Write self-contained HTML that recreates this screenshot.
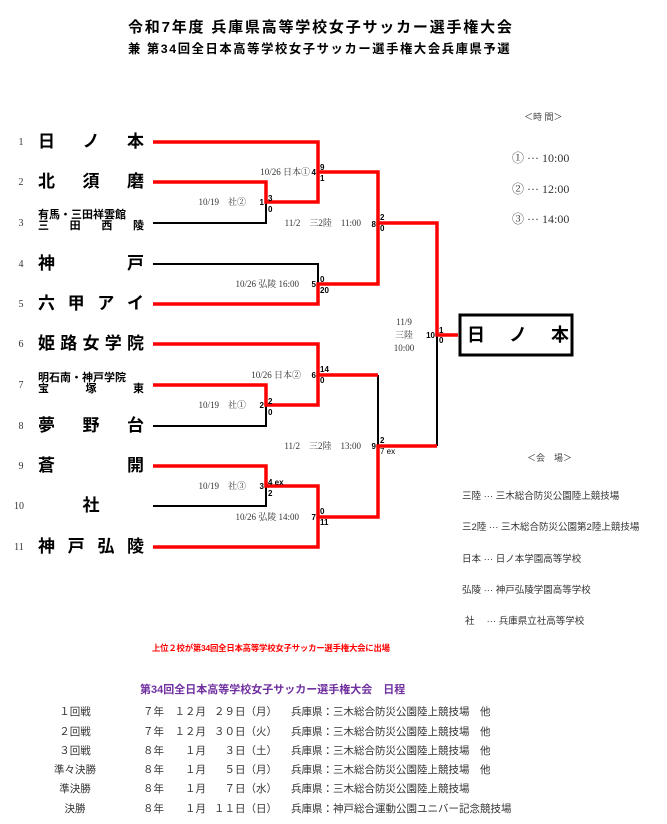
<!DOCTYPE html>
<html><head><meta charset="utf-8"><style>
body{margin:0;background:#fff;width:667px;height:824px;position:relative;overflow:hidden;font-family:"Liberation Sans","Noto Sans CJK JP",sans-serif;color:#000}
.a{position:absolute;white-space:nowrap}
.nm{position:absolute;left:38px;width:106px;display:flex;justify-content:space-between;font-weight:bold;font-size:17px;line-height:18px}
.nm2{position:absolute;left:38px;width:106px;font-weight:bold;font-size:11px;line-height:11px}
.nm2 div{display:flex;justify-content:space-between}
.no{position:absolute;left:14px;width:14px;text-align:center;font-family:"Liberation Serif",serif;font-size:10px;color:#333}
.sr{font-family:"Liberation Serif","Noto Serif CJK SC",serif}
.s{position:absolute;font-size:10.5px;color:#333;white-space:nowrap;line-height:14px}
</style></head><body>
<div class="a" style="left:128px;top:16px;font-size:15px;font-weight:bold;letter-spacing:1.8px">令和7年度 兵庫県高等学校女子サッカー選手権大会</div>
<div class="a" style="left:128px;top:39px;font-size:12.3px;font-weight:bold;letter-spacing:1.6px">兼 第34回全日本高等学校女子サッカー選手権大会兵庫県予選</div>

<div class="no" style="top:137px">1</div><div class="nm" style="top:133px"><span>日</span><span>ノ</span><span>本</span></div>
<div class="no" style="top:177px">2</div><div class="nm" style="top:173px"><span>北</span><span>須</span><span>磨</span></div>
<div class="no" style="top:218px">3</div><div class="nm2" style="top:210px"><div><span>有馬・三田祥雲館</span></div><div><span>三</span><span>田</span><span>西</span><span>陵</span></div></div>
<div class="no" style="top:259px">4</div><div class="nm" style="top:255px"><span>神</span><span>戸</span></div>
<div class="no" style="top:299px">5</div><div class="nm" style="top:295px"><span>六</span><span>甲</span><span>ア</span><span>イ</span></div>
<div class="no" style="top:339px">6</div><div class="nm" style="top:335px"><span>姫</span><span>路</span><span>女</span><span>学</span><span>院</span></div>
<div class="no" style="top:380px">7</div><div class="nm2" style="top:373px"><div><span>明石南・神戸学院</span></div><div><span>宝</span><span>塚</span><span>東</span></div></div>
<div class="no" style="top:421px">8</div><div class="nm" style="top:417px"><span>夢</span><span>野</span><span>台</span></div>
<div class="no" style="top:461px">9</div><div class="nm" style="top:457px"><span>蒼</span><span>開</span></div>
<div class="no" style="top:501px;left:12px">10</div><div class="nm" style="top:497px;justify-content:center"><span>社</span></div>
<div class="no" style="top:542px;left:12px">11</div><div class="nm" style="top:538px"><span>神</span><span>戸</span><span>弘</span><span>陵</span></div>

<svg class="a" style="left:0;top:0" width="667" height="824">
<g fill="none" stroke="#000" stroke-width="2">
<path d="M153 223H266V202"/><path d="M153 264H318V284"/><path d="M318 172V202"/><path d="M378 223V284"/>
<path d="M153 426H266V405"/><path d="M153 506H266V486"/><path d="M318 375V405"/><path d="M378 375V446"/><path d="M437 335V446"/><path d="M318 486V517"/>
</g>
<g fill="none" stroke="#f00" stroke-width="3.5">
<path d="M153 142H318V172H378V223H437V335H458"/>
<path d="M153 182H266V202H318V172"/>
<path d="M153 304H318V284H378V223"/>
<path d="M153 344H318V375H378"/>
<path d="M153 385H266V405H318V375"/>
<path d="M153 466H266V486H318V517H378V446H437"/>
<path d="M153 547H318V517"/>
</g>
<rect x="460" y="315" width="112" height="40" fill="none" stroke="#000" stroke-width="3"/>
<g font-family="Liberation Sans" font-size="8" font-weight="bold">
<text x="320" y="170">9</text><text x="320" y="181">1</text>
<text x="268" y="201">3</text><text x="268" y="212">0</text>
<text x="380" y="220">2</text><text x="380" y="231">0</text>
<text x="320" y="282">0</text><text x="320" y="293">20</text>
<text x="320" y="372">14</text><text x="320" y="383">0</text>
<text x="268" y="404">2</text><text x="268" y="415">0</text>
<text x="380" y="443">2</text><text x="380" y="454" font-weight="normal">7 ex</text>
<text x="268" y="485">4 ex</text><text x="268" y="496">2</text>
<text x="320" y="514">0</text><text x="320" y="525">11</text>
<text x="439" y="333">1</text><text x="439" y="343">0</text>
<text x="316" y="175" text-anchor="end">4</text><text x="264" y="205" text-anchor="end">1</text>
<text x="376" y="227" text-anchor="end">8</text><text x="316" y="287" text-anchor="end">5</text>
<text x="316" y="378" text-anchor="end">6</text><text x="264" y="408" text-anchor="end">2</text>
<text x="376" y="449" text-anchor="end">9</text><text x="264" y="489" text-anchor="end">3</text>
<text x="316" y="520" text-anchor="end">7</text><text x="435" y="338" text-anchor="end">10</text>
</g>
<g font-family="Liberation Serif,Noto Serif CJK SC,serif" font-size="9" fill="#333">
<text x="310" y="175" text-anchor="end">10/26 日本①</text>
<text x="246" y="205" text-anchor="end">10/19　社②</text>
<text x="361" y="226" text-anchor="end">11/2　三2陸　11:00</text>
<text x="299" y="287" text-anchor="end">10/26 弘陵 16:00</text>
<text x="301" y="378" text-anchor="end">10/26 日本②</text>
<text x="246" y="408" text-anchor="end">10/19　社①</text>
<text x="361" y="449" text-anchor="end">11/2　三2陸　13:00</text>
<text x="246" y="489" text-anchor="end">10/19　社③</text>
<text x="299" y="520" text-anchor="end">10/26 弘陵 14:00</text>
<text x="404" y="325" text-anchor="middle">11/9</text>
<text x="404" y="338" text-anchor="middle">三陸</text>
<text x="404" y="351" text-anchor="middle">10:00</text>
</g>
</svg>
<div class="a" style="left:467px;top:321px;width:102px;display:flex;justify-content:space-between;font-size:18px;font-weight:bold;line-height:28px"><span>日</span><span>ノ</span><span>本</span></div>

<div class="a" style="left:524px;top:110px;font-size:9px;color:#444">＜時 間＞</div>
<div class="a sr" style="left:512px;top:149px;font-size:12px;color:#333">① ··· 10:00</div>
<div class="a sr" style="left:512px;top:180px;font-size:12px;color:#333">② ··· 12:00</div>
<div class="a sr" style="left:512px;top:210px;font-size:12px;color:#333">③ ··· 14:00</div>

<div class="a" style="left:527px;top:451px;font-size:9px;color:#444">＜会　場＞</div>
<div class="a" style="left:462px;top:488px;font-size:9.5px;color:#333">三陸 ··· 三木総合防災公園陸上競技場</div>
<div class="a" style="left:462px;top:519px;font-size:9.5px;color:#333">三2陸 ··· 三木総合防災公園第2陸上競技場</div>
<div class="a" style="left:462px;top:551px;font-size:9.5px;color:#333">日本 ··· 日ノ本学園高等学校</div>
<div class="a" style="left:462px;top:582px;font-size:9.5px;color:#333">弘陵 ··· 神戸弘陵学園高等学校</div>
<div class="a" style="left:465px;top:613px;font-size:9.5px;color:#333">社　 ··· 兵庫県立社高等学校</div>

<div class="a" style="left:152px;top:642px;font-size:8.4px;font-weight:bold;color:#f00;letter-spacing:-0.2px">上位２校が第34回全日本高等学校女子サッカー選手権大会に出場</div>
<div class="a" style="left:140px;top:681px;font-size:11px;font-weight:bold;color:#7030a0">第34回全日本高等学校女子サッカー選手権大会　日程</div>

<div class="s" style="left:30px;top:705px;width:90px;text-align:center">１回戦</div>
<div class="s" style="left:30px;top:725px;width:90px;text-align:center">２回戦</div>
<div class="s" style="left:30px;top:744px;width:90px;text-align:center">３回戦</div>
<div class="s" style="left:30px;top:763px;width:90px;text-align:center">準々決勝</div>
<div class="s" style="left:30px;top:782px;width:90px;text-align:center">準決勝</div>
<div class="s" style="left:30px;top:802px;width:90px;text-align:center">決勝</div>

<div class="s" style="left:143px;top:705px">７年</div>
<div class="s" style="left:143px;top:725px">７年</div>
<div class="s" style="left:143px;top:744px">８年</div>
<div class="s" style="left:143px;top:763px">８年</div>
<div class="s" style="left:143px;top:782px">８年</div>
<div class="s" style="left:143px;top:802px">８年</div>

<div class="s" style="left:150px;top:705px;width:56px;text-align:right">１２月</div>
<div class="s" style="left:150px;top:725px;width:56px;text-align:right">１２月</div>
<div class="s" style="left:150px;top:744px;width:56px;text-align:right">１月</div>
<div class="s" style="left:150px;top:763px;width:56px;text-align:right">１月</div>
<div class="s" style="left:150px;top:782px;width:56px;text-align:right">１月</div>
<div class="s" style="left:150px;top:802px;width:56px;text-align:right">１月</div>

<div class="s" style="left:200px;top:705px;width:77px;text-align:right">２９日（月）</div>
<div class="s" style="left:200px;top:725px;width:77px;text-align:right">３０日（火）</div>
<div class="s" style="left:200px;top:744px;width:77px;text-align:right">３日（土）</div>
<div class="s" style="left:200px;top:763px;width:77px;text-align:right">５日（月）</div>
<div class="s" style="left:200px;top:782px;width:77px;text-align:right">７日（水）</div>
<div class="s" style="left:200px;top:802px;width:77px;text-align:right">１１日（日）</div>

<div class="s" style="left:291px;top:705px">兵庫県：三木総合防災公園陸上競技場　他</div>
<div class="s" style="left:291px;top:725px">兵庫県：三木総合防災公園陸上競技場　他</div>
<div class="s" style="left:291px;top:744px">兵庫県：三木総合防災公園陸上競技場　他</div>
<div class="s" style="left:291px;top:763px">兵庫県：三木総合防災公園陸上競技場　他</div>
<div class="s" style="left:291px;top:782px">兵庫県：三木総合防災公園陸上競技場</div>
<div class="s" style="left:291px;top:802px">兵庫県：神戸総合運動公園ユニバー記念競技場</div>
</body></html>
